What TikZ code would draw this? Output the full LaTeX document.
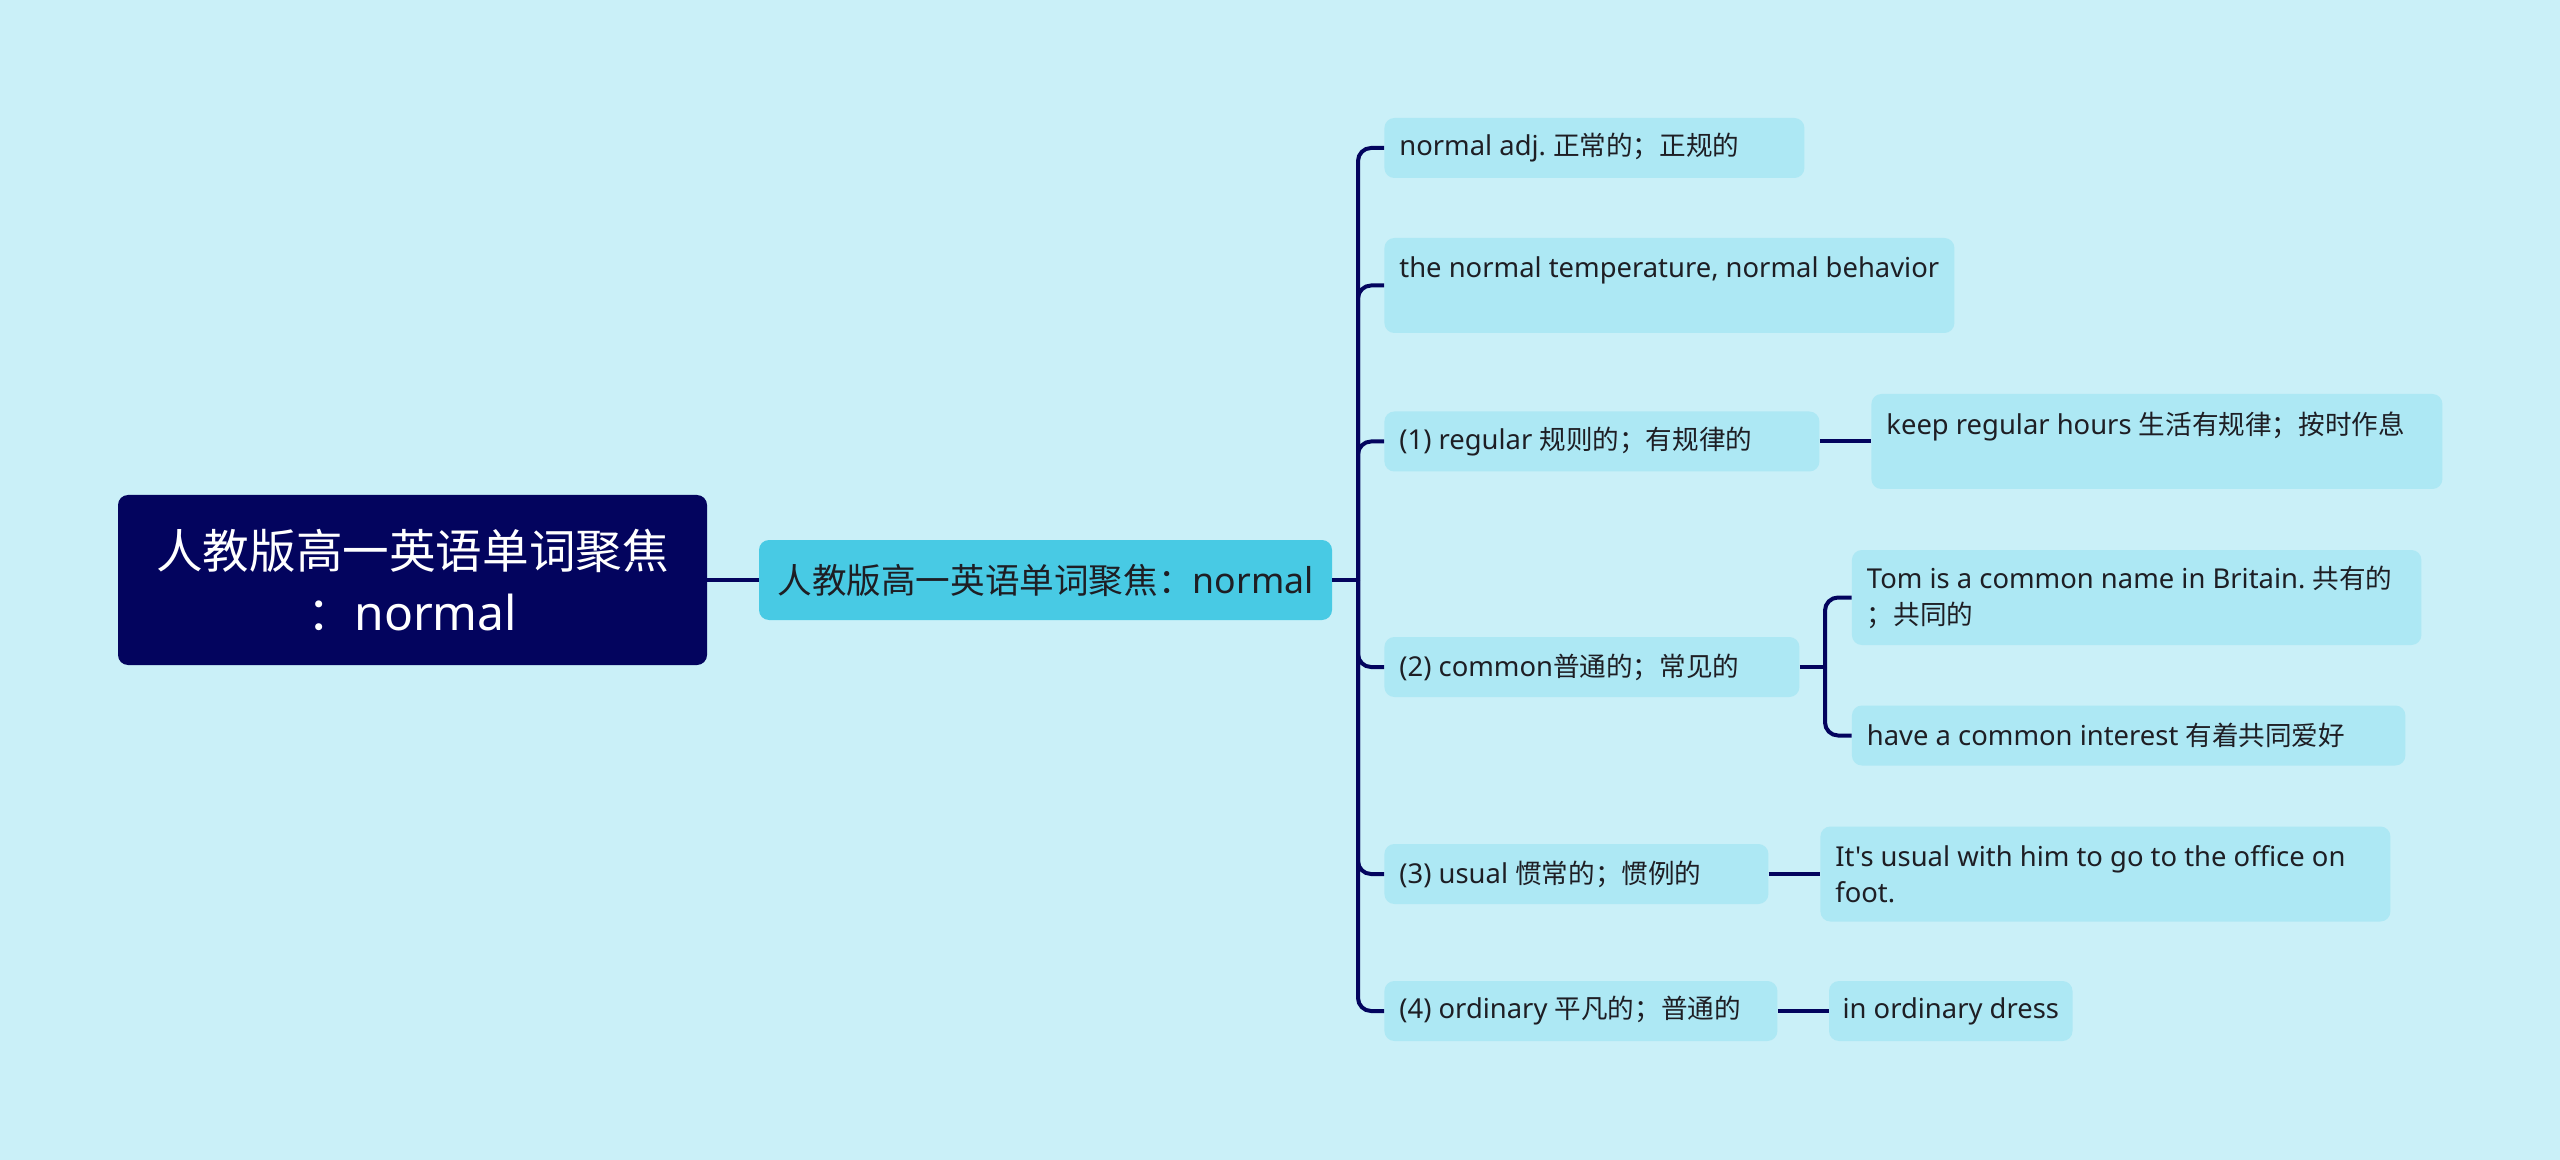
\documentclass[tikz,border=0pt]{standalone}
\usepackage{fontspec}
\setmainfont{Noto Sans}[Ligatures=TeXOff,Scale=1.03]
\newfontfamily\cjk{Noto Sans CJK SC}[Ligatures=TeXOff]
\newcommand{\zh}[1]{{\cjk #1}}
\frenchspacing
\definecolor{bgc}{HTML}{CAF0F8}
\definecolor{navy}{HTML}{03045E}
\definecolor{mainc}{HTML}{48CAE4}
\definecolor{leafc}{HTML}{ADE8F4}
\definecolor{txt}{HTML}{1E1E24}
\tikzset{
  rootbox/.style={fill=navy, text=white, rounded corners=5pt, align=center,
    font=\fontsize{23.3pt}{31pt}\selectfont, inner sep=0pt},
  mainbox/.style={fill=mainc, text=txt, rounded corners=5pt, align=center,
    font=\fontsize{17.3pt}{22pt}\selectfont, inner sep=0pt},
  leaf/.style={fill=leafc, text=txt, rounded corners=5pt, align=flush left, anchor=west,
    font=\fontsize{13.3pt}{18pt}\selectfont, inner xsep=7.5pt, inner ysep=0pt},
  single/.style={minimum height=30pt},
  double/.style={minimum height=47.5pt},
  conn/.style={draw=navy, line width=2pt},
  rconn/.style={conn, rounded corners=6.5pt}
}
\begin{document}
\begin{tikzpicture}[x=0.5pt,y=-0.5pt]
\fill[bgc] (0,0) rectangle (2560,1160);
\useasboundingbox (0,0) rectangle (2560,1160);

\node[rootbox, minimum width=294.5pt, minimum height=85pt] (root) at (412.5,580)
  {\zh{人教版高一英语单词聚焦}\\\zh{：}normal};
\node[mainbox, minimum width=286.5pt, minimum height=40pt] (main) at (1045.5,580)
  {\zh{人教版高一英语单词聚焦：}normal};

\node[leaf, single, text width=195pt] (b1) at (1384,148) {\mbox{normal adj. \zh{正常的；正规的}}};
\node[leaf, double, text width=270pt] (b2) at (1384,285.5) {\mbox{the normal temperature, normal behavior}\\\mbox{}};
\node[leaf, single, text width=202.5pt] (b3) at (1384,441.5) {\mbox{(1) regular \zh{规则的；有规律的}}};
\node[leaf, double, text width=270.5pt] (c3) at (1871,441.5) {\mbox{keep regular hours \zh{生活有规律；按时作息}}\\\mbox{}};
\node[leaf, single, text width=192.5pt] (b4) at (1384,667) {\mbox{(2) common\zh{普通的；常见的}}};
\node[leaf, double, text width=269.75pt] (c4a) at (1851.5,597.5) {\mbox{Tom is a common name in Britain. \zh{共有的}}\\\zh{；共同的}};
\node[leaf, single, text width=261.75pt] (c4b) at (1851.5,735.5) {\mbox{have a common interest \zh{有着共同爱好}}};
\node[leaf, single, text width=177pt] (b5) at (1384,874) {\mbox{(3) usual \zh{惯常的；惯例的}}};
\node[leaf, double, text width=270pt] (c5) at (1820,874) {\mbox{It's usual with him to go to the office on}\\foot.};
\node[leaf, single, text width=181.5pt] (b6) at (1384,1011) {\mbox{(4) ordinary \zh{平凡的；普通的}}};
\node[leaf, single, minimum width=121.75pt, inner xsep=4pt] (c6) at (1828.6,1011) {in ordinary dress};

\coordinate (sp) at (1358,580);
\coordinate (sp4) at (1825,667);

\draw[conn] (root.east) -- (main.west);
\draw[conn] (main.east) -- (sp);
\foreach \n in {b1,b2,b3,b4,b5,b6}{
  \draw[rconn] (\n.west) -| (sp);
}
\draw[conn] (b3.east) -- (c3.west);
\draw[conn] (b4.east) -- (sp4);
\draw[rconn] (c4a.west) -| (sp4);
\draw[rconn] (c4b.west) -| (sp4);
\draw[conn] (b5.east) -- (c5.west);
\draw[conn] (b6.east) -- (c6.west);
\end{tikzpicture}
\end{document}
